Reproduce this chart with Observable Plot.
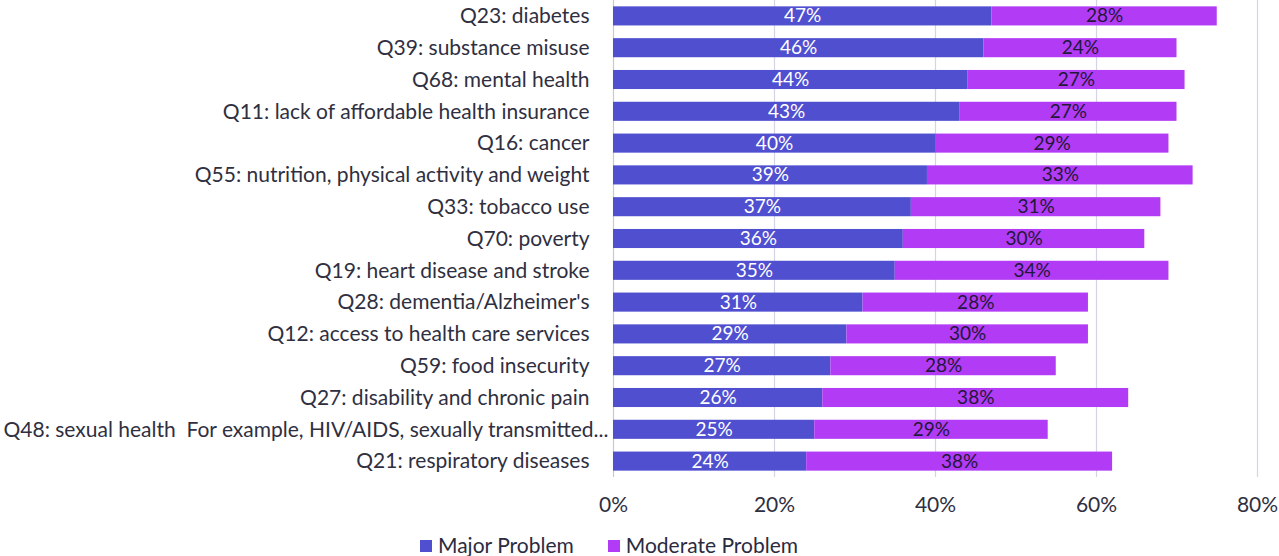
<!DOCTYPE html>
<html><head><meta charset="utf-8">
<script src="https://cdn.jsdelivr.net/npm/d3@7"></script>
<script src="https://cdn.jsdelivr.net/npm/@observablehq/plot@0.6"></script>
<style>
body{margin:0;background:#fff;font-family:Lato,"Open Sans",sans-serif;}
#wrap{position:relative;width:1279px;height:556px;overflow:hidden}
#legend{position:absolute;top:532px;left:420px;display:flex;gap:34px;font-size:21px;color:#2b2b40;white-space:nowrap}
#legend span.sw{display:inline-block;width:12px;height:12px;margin-right:6px;vertical-align:1px}
</style></head>
<body><div id="wrap"><div id="chart"></div>
<div id="legend"></div></div>
<script>
const categories = [
  "Q23: diabetes",
  "Q39: substance misuse",
  "Q68: mental health",
  "Q11: lack of affordable health insurance",
  "Q16: cancer",
  "Q55: nutrition, physical activity and weight",
  "Q33: tobacco use",
  "Q70: poverty",
  "Q19: heart disease and stroke",
  "Q28: dementia/Alzheimer's",
  "Q12: access to health care services",
  "Q59: food insecurity",
  "Q27: disability and chronic pain",
  "Q48: sexual health  For example, HIV/AIDS, sexually transmitted...",
  "Q21: respiratory diseases"
];
const major = [47,46,44,43,40,39,37,36,35,31,29,27,26,25,24];
const moderate = [28,24,27,27,29,33,31,30,34,28,30,28,38,29,38];
const seriesNames = ["Major Problem","Moderate Problem"];
const colors = ["#4f4fd0","#b23bf5"];
const xTicks = [0,20,40,60,80];
const longLabel = categories[13];

const rows = [];
categories.forEach((c,i)=>{
  rows.push({cat:c, series:seriesNames[0], value:major[i], x1:0, x2:major[i]});
  rows.push({cat:c, series:seriesNames[1], value:moderate[i], x1:major[i], x2:major[i]+moderate[i]});
});

const chart = Plot.plot({
  width:1279, height:525,
  marginLeft:613, marginRight:22, marginTop:0, marginBottom:48,
  style:{fontFamily:"Lato, 'Open Sans', sans-serif", fontSize:"21px", color:"#2f2f3f", background:"#fff"},
  x:{domain:[0,80], ticks:xTicks, tickFormat:d=>d+"%", label:null, tickSize:0, tickPadding:20},
  y:{domain:categories, label:null, axis:null, paddingInner:0.4, paddingOuter:0.2, round:false},
  color:{domain:seriesNames, range:colors},
  marks:[
    Plot.ruleX(xTicks.slice(1), {stroke:"#d4d4e6", strokeWidth:1.2}),
    Plot.ruleX([0], {stroke:"#c8c8d8", strokeWidth:1.2}),
    Plot.barX(rows, {y:"cat", x1:"x1", x2:"x2", fill:"series"}),
    Plot.text(rows, {y:"cat", x:d=>(d.x1+d.x2)/2, text:d=>d.value+"%",
      fill:d=>d.series===seriesNames[0]?"#ffffff":"#23183a", fontSize:19}),
    Plot.text(categories.filter(c=>c!==longLabel), {y:d=>d, frameAnchor:"left", textAnchor:"end", dx:-24, fill:"#2f2f3f", fontSize:21}),
    Plot.text([longLabel], {y:d=>d, frameAnchor:"left", textAnchor:"end", dx:-5, fill:"#2f2f3f", fontSize:21})
  ]
});
document.getElementById("chart").appendChild(chart);

const lg = document.getElementById("legend");
seriesNames.forEach((s,i)=>{
  const d=document.createElement("div");
  d.innerHTML=`<span class="sw" style="background:${colors[i]}"></span>${s}`;
  lg.appendChild(d);
});
</script></body></html>
